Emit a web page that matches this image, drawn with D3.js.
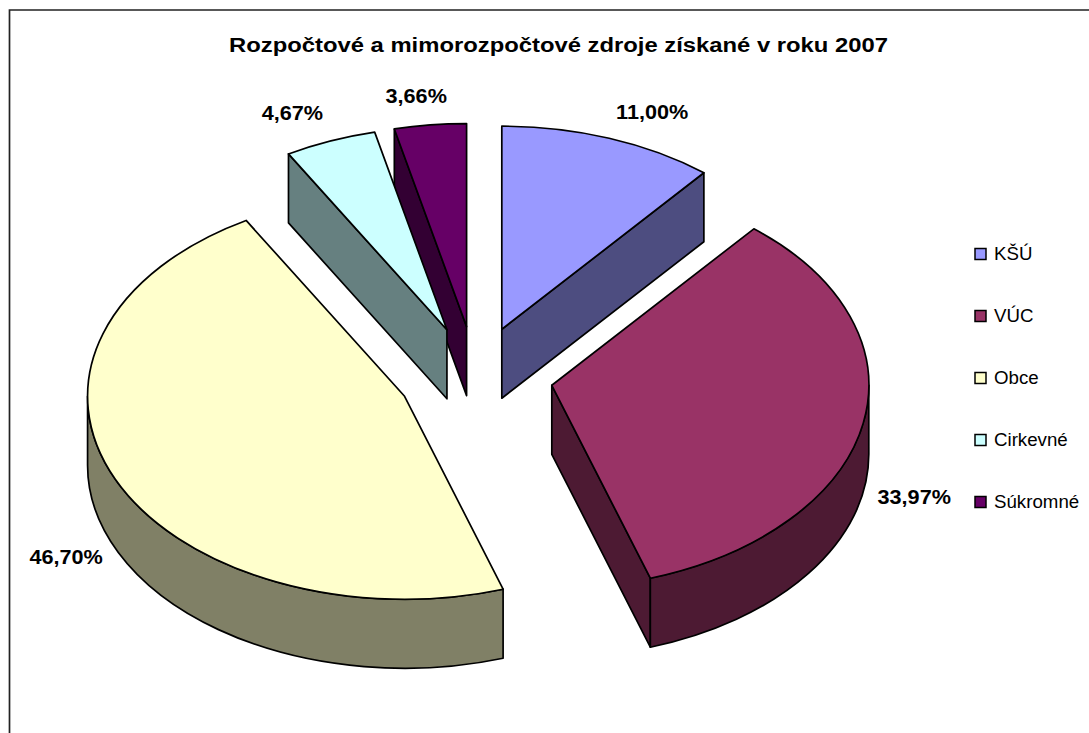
<!DOCTYPE html>
<html>
<head>
<meta charset="utf-8">
<script src="https://cdnjs.cloudflare.com/ajax/libs/d3/7.8.5/d3.min.js"></script>
<style>
body { margin: 0; background: #fff; }
text { font-family: "Liberation Sans", Arial, sans-serif; fill: #000; }
</style>
</head>
<body>
<svg width="1089" height="733"></svg>
<script>
var titleText = "Rozpočtové a mimorozpočtové zdroje získané v roku 2007";
var categories = ["KŠÚ", "VÚC", "Obce", "Cirkevné", "Súkromné"];
var values = [11.00, 33.97, 46.70, 4.67, 3.66];
var labels = ["11,00%", "33,97%", "46,70%", "4,67%", "3,66%"];
var topColors = ["#9999FF", "#993366", "#FFFFCC", "#CCFFFF", "#660066"];
var sideColors = ["#4D4D80", "#4D1A33", "#808066", "#668080", "#330033"];

// label offset from the rim point in the middle of each slice
var labelDx = [43, 51, -49, -38, -14];
var labelDy = [-27, 74, 78, -28, -29];

var cx = 475.5, cy = 376, rx = 317, ry = 203, depth = 69, explode = 0.245;

var svg = d3.select("svg");

svg.append("path")
    .attr("d", "M9.5,733V10H1089")
    .attr("fill", "none")
    .attr("stroke", "#222")
    .attr("stroke-width", 1.7);

svg.append("text")
    .attr("x", 558.5)
    .attr("y", 51.5)
    .attr("text-anchor", "middle")
    .attr("font-size", 20)
    .attr("font-weight", "bold")
    .attr("textLength", 659)
    .attr("lengthAdjust", "spacingAndGlyphs")
    .text(titleText);

var slices = d3.pie().sort(null)(values);

// point on the ellipse at pie angle a, relative to the slice apex
function rimX(a) { return rx * Math.sin(a); }
function rimY(a) { return -ry * Math.cos(a); }

slices.forEach(function(d) {
    var mid = (d.startAngle + d.endAngle) / 2;
    d.ax = cx + explode * rimX(mid);
    d.ay = cy + explode * rimY(mid);
    d.mid = mid;
});

function wallPath(d, a) {
    var x = d.ax + rimX(a), y = d.ay + rimY(a);
    return "M" + d.ax + "," + d.ay + "L" + x + "," + y + "V" + (y + depth) +
        "L" + d.ax + "," + (d.ay + depth) + "Z";
}

function rimPath(d) {
    var a0 = Math.max(d.startAngle, Math.PI / 2);
    var a1 = Math.min(d.endAngle, Math.PI * 1.5);
    var big = a1 - a0 > Math.PI ? 1 : 0;
    var x0 = d.ax + rimX(a0), y0 = d.ay + rimY(a0);
    var x1 = d.ax + rimX(a1), y1 = d.ay + rimY(a1);
    return "M" + x0 + "," + y0 +
        "A" + rx + "," + ry + " 0 " + big + ",1 " + x1 + "," + y1 +
        "V" + (y1 + depth) +
        "A" + rx + "," + ry + " 0 " + big + ",0 " + x0 + "," + (y0 + depth) + "Z";
}

function topPath(d) {
    var big = d.endAngle - d.startAngle > Math.PI ? 1 : 0;
    return "M" + d.ax + "," + d.ay +
        "L" + (d.ax + rimX(d.startAngle)) + "," + (d.ay + rimY(d.startAngle)) +
        "A" + rx + "," + ry + " 0 " + big + ",1 " +
        (d.ax + rimX(d.endAngle)) + "," + (d.ay + rimY(d.endAngle)) + "Z";
}

// back slices first, the small ones overlap each other
var order = [4, 3, 0, 1, 2];

var pie = svg.append("g")
    .attr("stroke", "#000")
    .attr("stroke-width", 1.7)
    .attr("stroke-linejoin", "round");

order.forEach(function(i) {
    var d = slices[i];
    if (Math.sin(d.startAngle) < -1e-6) {
        pie.append("path").attr("d", wallPath(d, d.startAngle)).attr("fill", sideColors[i]);
    }
    if (Math.sin(d.endAngle) > 1e-6) {
        pie.append("path").attr("d", wallPath(d, d.endAngle)).attr("fill", sideColors[i]);
    }
    if (d.endAngle > Math.PI / 2 && d.startAngle < Math.PI * 1.5) {
        pie.append("path").attr("d", rimPath(d)).attr("fill", sideColors[i]);
    }
    pie.append("path").attr("d", topPath(d)).attr("fill", topColors[i]);
});

svg.append("g").selectAll("text")
    .data(slices)
    .enter().append("text")
    .attr("x", function(d, i) { return d.ax + rimX(d.mid) + labelDx[i]; })
    .attr("y", function(d, i) { return d.ay + rimY(d.mid) + labelDy[i]; })
    .attr("dy", ".35em")
    .attr("text-anchor", "middle")
    .attr("font-size", 21)
    .attr("font-weight", "bold")
    .text(function(d, i) { return labels[i]; })
    .attr("lengthAdjust", "spacingAndGlyphs")
    .attr("textLength", function() { return this.getComputedTextLength() * 1.03; });

var legendY = d3.scalePoint().domain(categories).range([254, 502]);

var legend = svg.append("g").selectAll("g")
    .data(categories)
    .enter().append("g")
    .attr("transform", function(d) { return "translate(975," + legendY(d) + ")"; });

legend.append("rect")
    .attr("x", 0)
    .attr("y", -5.5)
    .attr("width", 11)
    .attr("height", 11)
    .attr("fill", function(d, i) { return topColors[i]; })
    .attr("stroke", "#000")
    .attr("stroke-width", 1.5);

legend.append("text")
    .attr("x", 19)
    .attr("y", -1)
    .attr("dy", ".35em")
    .attr("font-size", 18.7)
    .text(function(d) { return d; });
</script>
</body>
</html>
